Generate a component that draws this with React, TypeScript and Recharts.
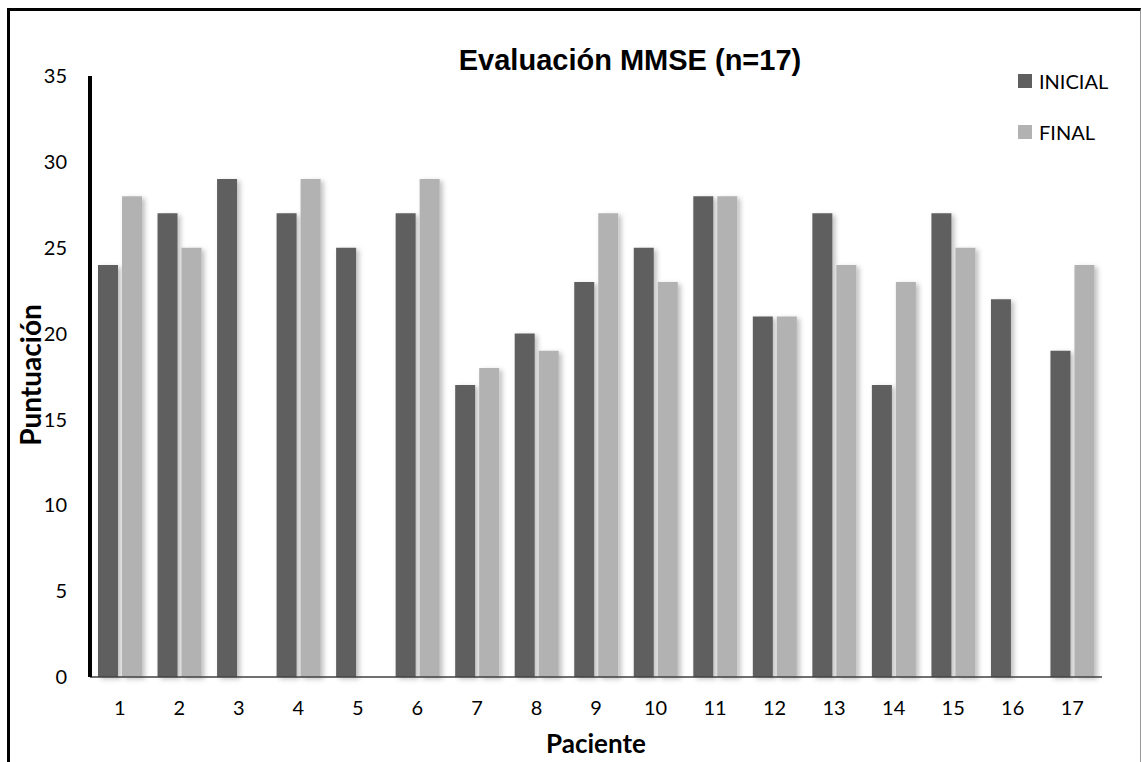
import { BarChart, Bar, XAxis, YAxis } from "recharts";

const pacientes = ["1", "2", "3", "4", "5", "6", "7", "8", "9", "10", "11", "12", "13", "14", "15", "16", "17"];
const inicial = [24, 27, 29, 27, 25, 27, 17, 20, 23, 25, 28, 21, 27, 17, 27, 22, 19];
const final = [28, 25, 0, 29, 0, 29, 18, 19, 27, 23, 28, 21, 24, 23, 25, 0, 24];
const yTicks = [0, 5, 10, 15, 20, 25, 30, 35];

const data = pacientes.map((p, i) => ({ name: p, inicial: inicial[i], final: final[i] }));

const DARK = "#5f5f5f";
const LIGHT = "#b2b2b2";
const FONT = "Lato, 'Open Sans', sans-serif";

export default function App() {
  return (
    <div
      style={{
        position: "absolute",
        left: 0,
        top: 0,
        width: 1141,
        height: 762,
        background: "#fff",
        overflow: "hidden",
        fontFamily: FONT,
      }}
    >
      <div
        style={{
          position: "absolute",
          left: 7,
          top: 8,
          width: 1130,
          height: 760,
          borderLeft: "3px solid #000",
          borderTop: "3px solid #000",
          borderRight: "1px solid #999",
        }}
      />
      <BarChart
        width={1141}
        height={762}
        data={data}
        margin={{ top: 76, right: 39, bottom: 25, left: 0 }}
        barSize={20}
        barGap={4}
        style={{ position: "absolute", left: 0, top: 0 }}
      >
        <defs>
          <filter id="sombra" x="-20%" y="-5%" width="160%" height="115%">
            <feDropShadow dx="3" dy="2" stdDeviation="2.5" floodColor="#000" floodOpacity="0.25" />
          </filter>
        </defs>
        <XAxis
          dataKey="name"
          height={60}
          tickLine={false}
          tickSize={0}
          tickMargin={24}
          axisLine={{ stroke: "#404040", strokeWidth: 1.5 }}
          tick={{ fill: "#000", fontSize: 20, fontFamily: FONT }}
        />
        <YAxis
          domain={[0, 35]}
          ticks={yTicks}
          width={90}
          tickLine={false}
          tickSize={0}
          tickMargin={23}
          axisLine={{ stroke: "#000", strokeWidth: 4 }}
          tick={{ fill: "#000", fontSize: 20, fontFamily: FONT }}
        />
        <Bar dataKey="inicial" fill={DARK} filter="url(#sombra)" isAnimationActive={false} />
        <Bar dataKey="final" fill={LIGHT} filter="url(#sombra)" isAnimationActive={false} />
      </BarChart>

      <div
        style={{
          position: "absolute",
          left: 0,
          width: 1260,
          top: 41,
          textAlign: "center",
          fontFamily: "'Liberation Sans', Arial, sans-serif",
          fontWeight: 700,
          fontSize: 29,
          lineHeight: "38px",
          whiteSpace: "nowrap",
        }}
      >
        Evaluación MMSE (n=17)
      </div>

      <div
        style={{
          position: "absolute",
          left: 0,
          width: 1192,
          top: 727,
          textAlign: "center",
          fontWeight: 700,
          fontSize: 26,
          lineHeight: "32px",
        }}
      >
        Paciente
      </div>

      <div
        style={{
          position: "absolute",
          left: 30,
          top: 375,
          transform: "translate(-50%, -50%) rotate(-90deg)",
          fontWeight: 700,
          fontSize: 28,
          lineHeight: "32px",
          whiteSpace: "nowrap",
        }}
      >
        Puntuación
      </div>

      {[
        { label: "INICIAL", color: DARK, y: 81 },
        { label: "FINAL", color: LIGHT, y: 132 },
      ].map((item) => (
        <div
          key={item.label}
          style={{
            position: "absolute",
            left: 1018,
            top: item.y - 12,
            height: 24,
            display: "flex",
            alignItems: "center",
            fontSize: 20,
            color: "#000",
          }}
        >
          <span style={{ width: 14, height: 14, background: item.color, marginRight: 7 }} />
          {item.label}
        </div>
      ))}
    </div>
  );
}
